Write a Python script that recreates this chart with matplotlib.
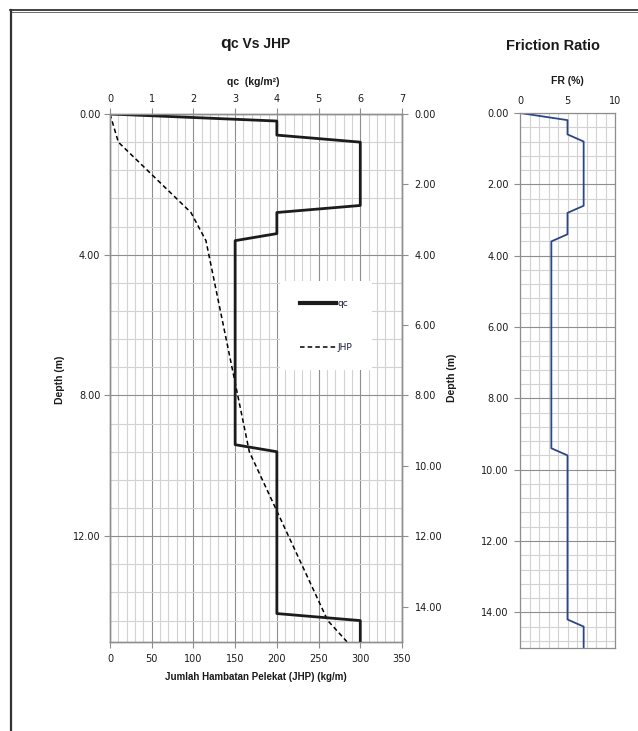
import matplotlib
matplotlib.use('Agg')
import matplotlib.pyplot as pl
from matplotlib.lines import Line2D
from matplotlib.patches import Rectangle
import numpy as np

W, H = 638, 731

# sondir profile, depth in m
depth = [0.0, 0.2, 0.6, 0.8, 2.6, 2.8, 3.4, 3.6, 9.4, 9.6, 14.2, 14.4, 15.0]
qc = [0, 4, 4, 6, 6, 4, 4, 3, 3, 4, 4, 6, 6]
fr = [0, 5.0, 5.0, 6.7, 6.7, 5.0, 5.0, 3.3, 3.3, 5.0, 5.0, 6.7, 6.7]

jhp_depth = [0.0, 0.8, 2.8, 3.6, 9.6, 14.4, 15.0]
jhp = [0, 10, 97, 115, 167, 261, 284]

qc_ticks = [0, 1, 2, 3, 4, 5, 6, 7]
jhp_ticks = [0, 50, 100, 150, 200, 250, 300, 350]
depth_ticks_left = [0, 4, 8, 12]
depth_ticks_right = [0, 2, 4, 6, 8, 10, 12, 14]
fr_ticks = [0, 5, 10]

GRID_MINOR = '#d2d2d2'
GRID_MAJOR = '#8e8e8e'
SPINE = '#8e8e8e'
TXT = '#1a1a1a'
LBL = dict(family='Liberation Sans', weight='bold', color=TXT)


def px_axes(fig, x0, y0, x1, y1):
    return fig.add_axes([x0 / W, 1 - y1 / H, (x1 - x0) / W, (y1 - y0) / H])


def ftext(fig, x, y, s, **kw):
    return fig.text(x / W, 1 - y / H, s, **kw)


def style_ticks(ax):
    for sp in ax.spines.values():
        sp.set_color(SPINE)
        sp.set_linewidth(0.9)
    ax.tick_params(which='major', direction='out', length=4, width=0.8,
                   color=SPINE, labelcolor=TXT, labelsize=7)
    ax.tick_params(which='minor', length=0)


fig = pl.figure(figsize=(W / 100, H / 100), dpi=100)
fig.patch.set_facecolor('white')

# ---- qc vs JHP ----
ax = px_axes(fig, 110, 114, 402, 641.7)
ax.set_xlim(0, 350)
ax.set_ylim(15, 0)
ax.set_xticks(jhp_ticks)
ax.set_xticks(np.arange(0, 351, 10), minor=True)
ax.set_yticks(depth_ticks_left)
ax.set_yticks(np.arange(0, 15, 0.8), minor=True)
ax.yaxis.set_major_formatter(matplotlib.ticker.FormatStrFormatter('%.2f'))
ax.set_axisbelow(True)
ax.grid(which='minor', color=GRID_MINOR, lw=0.8)
ax.grid(which='major', color=GRID_MAJOR, lw=0.8)
style_ticks(ax)
ax.tick_params(axis='x', pad=5)
ax.tick_params(axis='y', pad=3)
ax.plot(jhp, jhp_depth, color='black', lw=1.1, ls='--', dashes=(3, 2), zorder=3)
ax.add_patch(Rectangle((0.582, 0.515), 0.315, 0.168, transform=ax.transAxes,
                       facecolor='white', edgecolor='none', zorder=2))

ax_qc = ax.twiny()
ax_qc.set_xlim(0, 7)
ax_qc.set_xticks(qc_ticks)
style_ticks(ax_qc)
ax_qc.tick_params(axis='x', pad=3)
ax_qc.plot(qc, depth, color='#1c1c1c', lw=2.0, solid_joinstyle='round', zorder=3)

ax_r = ax.twinx()
ax_r.set_ylim(15, 0)
ax_r.set_yticks(depth_ticks_right)
ax_r.yaxis.set_major_formatter(matplotlib.ticker.FormatStrFormatter('%.2f'))
style_ticks(ax_r)
ax_r.tick_params(axis='y', pad=5)

handles = [Line2D([], [], color='#1c1c1c', lw=3),
           Line2D([], [], color='black', lw=1.1, ls='--', dashes=(3, 2))]
ax_r.legend(handles, ['qc', 'JHP'], loc='center',
            bbox_to_anchor=(0.582, 0.515, 0.315, 0.168), frameon=False,
            prop={'family': 'DejaVu Sans', 'size': 6.5}, handlelength=4,
            handletextpad=0.2, labelspacing=3.8, labelcolor='#1a1a40')

# ---- Friction ratio ----
axf = px_axes(fig, 520, 113, 615, 648)
axf.set_xlim(0, 10)
axf.set_ylim(15, 0)
axf.xaxis.tick_top()
axf.set_xticks(fr_ticks)
axf.set_xticks(np.arange(0, 11, 1), minor=True)
axf.set_yticks(depth_ticks_right)
axf.set_yticks(np.arange(0, 15.01, 0.4), minor=True)
axf.yaxis.set_major_formatter(matplotlib.ticker.FormatStrFormatter('%.2f'))
axf.set_axisbelow(True)
axf.xaxis.grid(which='both', color=GRID_MINOR, lw=0.8)
axf.yaxis.grid(which='minor', color=GRID_MINOR, lw=0.8)
axf.yaxis.grid(which='major', color=GRID_MAJOR, lw=0.8)
style_ticks(axf)
axf.tick_params(axis='x', length=0, pad=5)
axf.tick_params(axis='y', pad=4)
axf.plot(fr, depth, color='#2b4787', lw=1.3, solid_joinstyle='round')

# ---- texts ----
ftext(fig, 231, 48.3, 'q', ha='right', va='baseline', fontsize=12.5, **LBL)
ftext(fig, 231, 48.3, 'c Vs JHP', ha='left', va='baseline', fontsize=10, **LBL)
ftext(fig, 253, 82, 'qc  (kg/m\u00b2)', ha='center', va='center', fontsize=7.5, **LBL)
ftext(fig, 256, 677.5, 'Jumlah Hambatan Pelekat (JHP) (kg/m)', ha='center',
      va='center', fontsize=7, **LBL)
ftext(fig, 60, 380, 'Depth (m)', rotation=90, ha='center', va='center',
      fontsize=7.5, **LBL)
ftext(fig, 553.5, 49.5, 'Friction Ratio', ha='center', va='baseline',
      fontsize=10.5, **LBL)
ftext(fig, 567, 81, 'FR (%)', ha='center', va='center', fontsize=7.5, **LBL)
ftext(fig, 452, 378, 'Depth (m)', rotation=90, ha='center', va='center',
      fontsize=7.5, **LBL)

# page frame
fig.add_artist(Line2D([10 / W, 1], [1 - 9.5 / H] * 2, transform=fig.transFigure,
                      color='#222222', lw=1.2))
fig.add_artist(Line2D([10 / W, 1], [1 - 12 / H] * 2, transform=fig.transFigure,
                      color='#555555', lw=0.6))
fig.add_artist(Line2D([11 / W] * 2, [1 - 9.5 / H, 0], transform=fig.transFigure,
                      color='#333333', lw=1.6))

fig.savefig('out.png', dpi=100)
